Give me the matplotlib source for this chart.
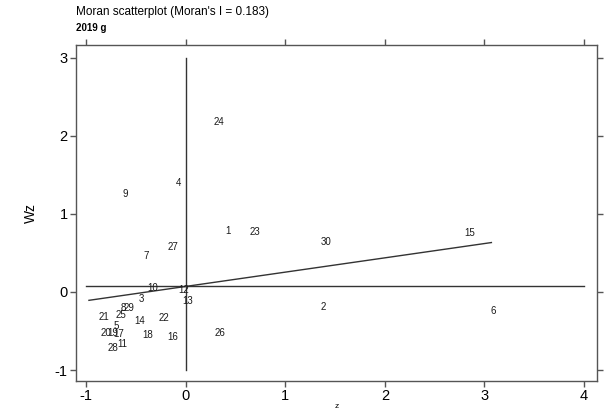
import matplotlib
matplotlib.use("Agg")
import matplotlib.pyplot as plt

plt.rcParams["font.family"] = ["Liberation Sans", "DejaVu Sans"]
plt.rcParams["axes.unicode_minus"] = False

# region labels and their (z, Wz) positions
ids = ["24", "4", "9", "1", "23", "30", "15", "27", "7", "10", "12", "3", "13",
       "2", "6", "8", "29", "21", "25", "14", "22", "20", "19", "5", "17",
       "18", "16", "26", "11", "28"]
z = [0.33, -0.07, -0.61, 0.43, 0.70, 1.41, 2.85, -0.13, -0.40, -0.33, -0.02,
     -0.44, 0.02, 1.38, 3.09, -0.63, -0.57, -0.82, -0.65, -0.46, -0.22, -0.80,
     -0.73, -0.70, -0.67, -0.38, -0.13, 0.35, -0.64, -0.73]
wz = [2.17, 1.39, 1.25, 0.78, 0.77, 0.64, 0.75, 0.57, 0.46, 0.05, 0.03,
      -0.09, -0.12, -0.19, -0.24, -0.21, -0.20, -0.32, -0.29, -0.37, -0.33,
      -0.52, -0.52, -0.43, -0.54, -0.55, -0.58, -0.53, -0.67, -0.72]

moran_i = 0.183
intercept = 0.07
mean_wz = 0.08
year = "2019 g"

fig = plt.figure(figsize=(6.04, 4.13), dpi=100)
ax = fig.add_axes([76 / 604, 1 - 381 / 413, (597 - 76) / 604, (381 - 45) / 413])

grey = "#555555"
for s in ax.spines.values():
    s.set_color(grey)
    s.set_linewidth(1.0)

for name, xv, yv in zip(ids, z, wz):
    ax.text(xv, yv, name, fontsize=7, ha="center", va="center", color="#1a1a1a")

# reference lines
ax.plot([0, 0], [-1, 3], color="#333333", lw=1.0)
ax.plot([-1, 4], [mean_wz, mean_wz], color="#333333", lw=1.0)
xs = [min(z) - 0.15, max(z) - 0.02]
ax.plot(xs, [intercept + moran_i * v for v in xs], color="#333333", lw=1.0)

ax.set_xlim(-1.1, 4.13)
ax.set_ylim(-1.14, 3.16)
ax.set_xticks([-1, 0, 1, 2, 3, 4])
ax.set_yticks([-1, 0, 1, 2, 3])
ax.tick_params(direction="out", length=4, width=1, color=grey, labelsize=10.5,
               top=True, right=True, labeltop=False, labelright=False, pad=2)
ax.set_xlabel("z", fontsize=6, labelpad=0)
ax.set_ylabel("Wz", fontsize=10, labelpad=12)

fig.text(76 / 604, 1 - 12 / 413, "Moran scatterplot (Moran's I = %.3f)" % moran_i,
         fontsize=8.5, ha="left", va="center")
fig.text(76 / 604, 1 - 28 / 413, year, fontsize=7, fontweight="bold",
         ha="left", va="center")

fig.savefig("out.png", dpi=100, facecolor="white")
